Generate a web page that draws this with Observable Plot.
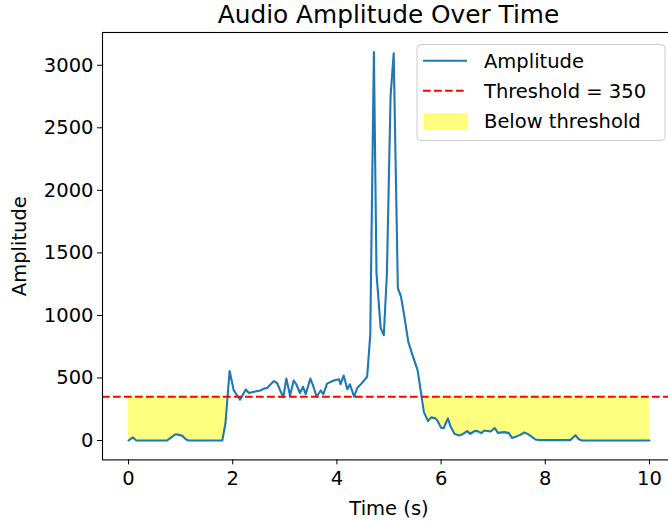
<!DOCTYPE html>
<html>
<head>
<meta charset="utf-8">
<script src="https://cdn.jsdelivr.net/npm/d3@7"></script>
<script src="https://cdn.jsdelivr.net/npm/@observablehq/plot@0.6"></script>
<style>
  html, body { margin: 0; padding: 0; background: #fff; overflow: hidden; width: 668px; height: 521px; }
  body { position: relative; font-family: "DejaVu Sans", sans-serif; }
  #chart { position: absolute; left: 0; top: 0; width: 676px; height: 521px; }
  #chart svg { max-width: none !important; width: 676px !important; height: 521px !important; }
  #title { position: absolute; left: 0; top: 0; width: 777px; text-align: center; font-size: 24.8px; line-height: 30px; color: #000; white-space: nowrap; }
  #legend { position: absolute; left: 0; top: 0; }
</style>
</head>
<body>
<div id="chart"></div>
<div id="title">Audio Amplitude Over Time</div>
<svg id="legend" width="668" height="150"></svg>
<script>
// Data (time in seconds, amplitude)
const time = [0, 0.08, 0.15, 0.3, 0.45, 0.6, 0.74, 0.82, 0.9, 0.97, 1.03, 1.1, 1.15, 1.3, 1.45, 1.6, 1.8,
  1.86, 1.94, 2.02, 2.14, 2.25, 2.31, 2.41, 2.53, 2.6, 2.66, 2.79, 2.85, 2.97, 3.03, 3.1, 3.17, 3.22,
  3.29, 3.35, 3.4, 3.49, 3.55, 3.61, 3.69, 3.74, 3.81, 3.94, 4.04, 4.07, 4.13, 4.2, 4.25, 4.33, 4.39,
  4.47, 4.58, 4.64, 4.71, 4.76, 4.84, 4.9, 4.96, 5.03, 5.09, 5.17, 5.23, 5.28, 5.37, 5.44, 5.55, 5.67,
  5.75, 5.81, 5.89, 5.93, 6.0, 6.05, 6.13, 6.18, 6.26, 6.34, 6.4, 6.5, 6.56, 6.64, 6.7, 6.77, 6.83,
  6.95, 7.03, 7.09, 7.22, 7.3, 7.36, 7.46, 7.52, 7.6, 7.66, 7.75, 7.81, 7.91, 8.1, 8.3, 8.48, 8.58,
  8.64, 8.7, 9.0, 9.3, 9.6, 10];
const amplitude = [0, 25, 0, 0, 0, 0, 0, 25, 50, 45, 38, 10, 0, 0, 0, 0, 0,
  136, 556, 401, 326, 408, 380, 390, 400, 415, 420, 475, 460, 345, 495, 360, 480, 450,
  380, 430, 370, 495, 430, 350, 400, 370, 455, 480, 490, 450, 520, 410, 450, 350, 420,
  455, 510, 842, 3105, 1337, 898, 842, 1337, 2753, 3095, 1218, 1150, 1030, 790, 697, 561, 227,
  155, 185, 177, 160, 101, 100, 177, 115, 53, 40, 48, 75, 53, 75, 75, 59, 80,
  72, 100, 61, 67, 59, 21, 35, 45, 64, 53, 27, 8, 3, 3, 3, 3, 42,
  12, 0, 0, 0, 0, 0];
const threshold = 350;
const xTicks = [0, 2, 4, 6, 8, 10];
const yTicks = [0, 500, 1000, 1500, 2000, 2500, 3000];
const legendLabels = ["Amplitude", "Threshold = 350", "Below threshold"];

const data = time.map((t, i) => ({t, a: amplitude[i]}));

const chart = Plot.plot({
  width: 676,
  height: 521,
  marginTop: 32,
  marginBottom: 61.6,
  marginLeft: 102,
  marginRight: 1,
  style: {fontFamily: "'DejaVu Sans', sans-serif", fontSize: "19.5px", color: "black", background: "transparent", overflow: "visible", maxWidth: "none"},
  x: {domain: [-0.5, 10.5]},
  y: {domain: [-155, 3262]},
  marks: [
    Plot.areaY(data, {x: "t", y1: d => d.a < threshold ? d.a : NaN, y2: () => threshold, fill: "yellow", fillOpacity: 0.5}),
    Plot.line(data, {x: "t", y: "a", stroke: "#1f77b4", strokeWidth: 2.1, strokeLinejoin: "round"}),
    Plot.ruleY([threshold], {stroke: "red", strokeWidth: 2.1, strokeDasharray: "7.7,3.3"}),
    Plot.frame({stroke: "black", strokeWidth: 1.1}),
    Plot.axisX({ticks: xTicks, tickSize: 5, tickPadding: 6, tickFormat: d => String(d), label: "Time (s)", labelAnchor: "center", labelArrow: "none", labelOffset: 55}),
    Plot.axisY({ticks: yTicks, tickSize: 5, tickPadding: 4, tickFormat: d => String(d), label: "Amplitude", labelAnchor: "center", labelArrow: "none", labelOffset: 90})
  ]
});
document.getElementById("chart").appendChild(chart);

// Legend (matplotlib-style box, upper right)
const lg = d3.select("#legend");
lg.append("rect").attr("x", 417).attr("y", 44.5).attr("width", 248).attr("height", 96).attr("rx", 4)
  .attr("fill", "rgba(255,255,255,0.8)").attr("stroke", "#cccccc").attr("stroke-width", 1);
const rows = [60.7, 90.7, 120.7];
lg.append("line").attr("x1", 423).attr("x2", 467).attr("y1", rows[0]).attr("y2", rows[0])
  .attr("stroke", "#1f77b4").attr("stroke-width", 2.1);
lg.append("line").attr("x1", 423).attr("x2", 467).attr("y1", rows[1]).attr("y2", rows[1])
  .attr("stroke", "red").attr("stroke-width", 2.1).attr("stroke-dasharray", "7.7,3.3");
lg.append("rect").attr("x", 424).attr("y", rows[2] - 7).attr("width", 43).attr("height", 15)
  .attr("fill", "yellow").attr("fill-opacity", 0.5).attr("stroke", "yellow").attr("stroke-opacity", 0.5);
legendLabels.forEach((s, i) => {
  lg.append("text").attr("x", 484).attr("y", rows[i] + 7.3).attr("font-size", "19.5px")
    .attr("font-family", "'DejaVu Sans', sans-serif").attr("fill", "black").text(s);
});
</script>
</body>
</html>
